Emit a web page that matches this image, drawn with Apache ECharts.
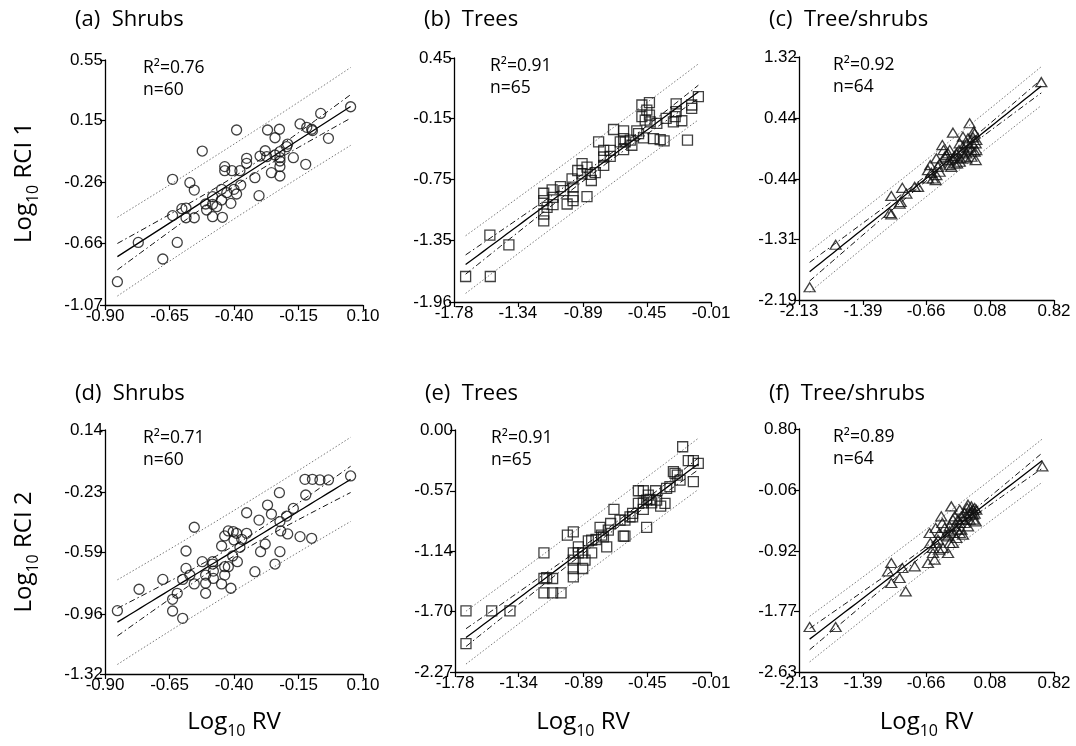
<!DOCTYPE html>
<html><head><meta charset="utf-8">
<script src="https://cdn.jsdelivr.net/npm/echarts@6/dist/echarts.min.js"></script>
<style>html,body{margin:0;padding:0;background:#fff}#c{width:1076px;height:746px}</style>
</head><body><div id="c"></div>
<script>
// ---------- data ----------
const aX = [-0.852,-0.771,-0.676,-0.620,-0.638,-0.638,-0.602,-0.586,-0.586,-0.571,-0.554,-0.554,-0.523,-0.510,-0.506,-0.483,-0.483,-0.483,-0.448,-0.448,-0.445,-0.436,-0.436,-0.428,-0.412,-0.408,-0.390,-0.390,-0.377,-0.374,-0.351,-0.351,-0.319,-0.303,-0.299,-0.279,-0.270,-0.255,-0.241,-0.224,-0.222,-0.222,-0.222,-0.222,-0.222,-0.192,-0.196,-0.170,-0.144,-0.122,-0.118,-0.096,-0.064,-0.034,0.052,-0.467,-0.400,-0.241,-0.099,-0.273];
const aY = [-0.916,-0.656,-0.766,-0.656,-0.239,-0.479,-0.433,-0.429,-0.493,-0.261,-0.310,-0.493,-0.052,-0.402,-0.442,-0.354,-0.404,-0.486,-0.305,-0.376,-0.490,-0.155,-0.182,-0.327,-0.398,-0.182,-0.336,0.087,-0.182,-0.277,-0.100,-0.133,-0.228,-0.347,-0.085,-0.050,0.087,-0.195,0.036,0.092,-0.056,-0.096,-0.118,-0.155,-0.217,-0.006,-0.023,-0.096,0.127,-0.140,0.105,0.083,0.197,0.032,0.241,-0.420,-0.305,-0.078,0.092,-0.089];

const bX = [-1.700,-1.530,-1.533,-1.402,-1.162,-1.162,-1.162,-1.162,-1.104,-1.098,-1.098,-1.047,-1.001,-0.967,-0.960,-0.960,-0.960,-0.928,-0.898,-0.864,-0.864,-0.834,-0.807,-0.784,-0.749,-0.749,-0.704,-0.681,-0.612,-0.612,-0.612,-0.601,-0.566,-0.521,-0.475,-0.486,-0.486,-0.463,-0.434,-0.434,-0.452,-0.406,-0.383,-0.360,-0.333,-0.319,-0.269,-0.250,-0.250,-0.211,-0.172,-0.143,-0.143,-0.097,-0.749,-0.635,-0.555,-0.509,-0.841,-1.024,-1.139,-0.429,-0.257,-0.704,-0.898];
const bY = [-1.708,-1.708,-1.300,-1.396,-0.886,-0.959,-1.091,-1.158,-0.853,-0.926,-0.999,-0.820,-0.992,-0.743,-0.826,-0.919,-0.959,-0.661,-0.594,-0.627,-0.919,-0.760,-0.683,-0.379,-0.462,-0.528,-0.462,-0.256,-0.269,-0.346,-0.455,-0.379,-0.362,-0.269,-0.339,-0.014,-0.130,-0.163,0.009,-0.114,-0.064,-0.346,-0.196,-0.356,-0.369,-0.147,-0.180,-0.004,-0.080,-0.170,-0.362,-0.047,-0.014,0.069,-0.611,-0.379,-0.412,-0.296,-0.700,-0.859,-1.025,-0.180,-0.130,-0.521,-0.694];

const cX = [-2.007,-1.706,-1.062,-1.081,-1.062,-0.954,-0.935,-0.888,-0.792,-0.611,-0.599,-0.580,-0.549,-0.541,-0.503,-0.472,-0.457,-0.426,-0.395,-0.368,-0.349,-0.329,-0.302,-0.279,-0.264,-0.233,-0.221,-0.194,-0.175,-0.156,-0.148,-0.136,-0.125,-0.110,-0.098,-0.086,-0.079,-0.098,-0.271,-0.387,-0.445,-0.522,-0.638,-0.638,-0.753,-0.966,0.673,-0.349,-0.310,-0.241,-0.194,-0.136,-0.086,-0.175,-0.406,-0.503,-0.541,-0.233,-0.117,-0.329,-0.271,-0.187,-0.079,-0.387];
const cY = [-2.006,-1.392,-0.687,-0.933,-0.952,-0.774,-0.570,-0.653,-0.556,-0.242,-0.353,-0.435,-0.459,-0.145,-0.218,0.048,-0.024,-0.097,-0.169,-0.266,0.227,-0.111,-0.218,-0.024,-0.145,0.024,-0.121,-0.072,0.145,0.363,0.024,-0.024,0.073,0.242,-0.048,-0.169,0.121,0.218,0.073,-0.024,-0.121,-0.266,-0.314,-0.435,-0.556,-0.798,0.957,-0.145,-0.072,-0.048,-0.145,-0.121,0.073,0.000,-0.072,-0.338,-0.387,0.169,0.160,-0.218,-0.193,0.073,-0.024,-0.242];

const dX = [-0.852,-0.768,-0.676,-0.638,-0.638,-0.620,-0.599,-0.599,-0.586,-0.586,-0.571,-0.554,-0.554,-0.523,-0.510,-0.510,-0.510,-0.483,-0.483,-0.480,-0.448,-0.448,-0.436,-0.436,-0.436,-0.422,-0.412,-0.405,-0.403,-0.400,-0.390,-0.387,-0.377,-0.370,-0.351,-0.351,-0.319,-0.303,-0.297,-0.279,-0.270,-0.255,-0.241,-0.224,-0.222,-0.222,-0.219,-0.192,-0.196,-0.170,-0.144,-0.122,-0.125,-0.099,-0.096,-0.067,-0.034,0.052,-0.480,-0.422];
const dY = [-0.941,-0.813,-0.754,-0.873,-0.943,-0.837,-0.987,-0.754,-0.688,-0.584,-0.728,-0.442,-0.781,-0.648,-0.728,-0.777,-0.837,-0.648,-0.662,-0.704,-0.554,-0.781,-0.494,-0.678,-0.728,-0.464,-0.807,-0.614,-0.468,-0.518,-0.478,-0.648,-0.562,-0.514,-0.478,-0.355,-0.708,-0.399,-0.588,-0.542,-0.309,-0.363,-0.662,-0.235,-0.588,-0.408,-0.464,-0.482,-0.375,-0.329,-0.498,-0.249,-0.155,-0.508,-0.155,-0.159,-0.159,-0.135,-0.748,-0.678];

const eX = [-1.704,-1.704,-1.526,-1.400,-1.165,-1.165,-1.165,-1.105,-1.105,-1.047,-1.003,-0.962,-0.962,-0.962,-0.962,-0.962,-0.927,-0.897,-0.897,-0.858,-0.835,-0.805,-0.777,-0.754,-0.731,-0.704,-0.681,-0.616,-0.605,-0.605,-0.552,-0.552,-0.512,-0.478,-0.478,-0.455,-0.443,-0.420,-0.393,-0.358,-0.328,-0.317,-0.270,-0.259,-0.224,-0.206,-0.167,-0.132,-0.132,-0.098,-0.478,-0.432,-0.570,-0.639,-0.766,-0.835,-0.927,-0.243,-0.294,-0.386,-0.455,-0.512,-0.720,-0.881,-1.146];
const eY = [-2.004,-1.697,-1.697,-1.697,-1.152,-1.393,-1.528,-1.393,-1.528,-1.528,-0.986,-0.955,-1.152,-1.221,-1.299,-1.378,-1.096,-1.152,-1.299,-1.040,-1.152,-1.027,-0.914,-1.002,-1.096,-0.877,-0.745,-0.996,-0.845,-0.996,-0.814,-0.783,-0.570,-0.683,-0.745,-0.914,-0.611,-0.683,-0.570,-0.714,-0.689,-0.548,-0.391,-0.407,-0.470,-0.157,-0.288,-0.288,-0.485,-0.313,-0.570,-0.651,-0.814,-0.845,-0.986,-1.033,-1.152,-0.423,-0.532,-0.658,-0.658,-0.689,-0.939,-1.221,-1.384];

const fX = [-2.007,-1.706,-1.100,-1.062,-1.062,-0.966,-0.935,-0.896,-0.792,-0.638,-0.619,-0.611,-0.580,-0.561,-0.549,-0.522,-0.484,-0.472,-0.464,-0.433,-0.406,-0.387,-0.368,-0.349,-0.329,-0.310,-0.291,-0.271,-0.252,-0.233,-0.214,-0.194,-0.175,-0.156,-0.136,-0.117,-0.110,-0.098,-0.086,-0.079,0.685,-0.445,-0.387,-0.349,-0.302,-0.271,-0.233,-0.175,-0.136,-0.117,-0.183,-0.511,-0.580,-0.503,-0.406,-0.252,-0.214,-0.349,-0.271,-0.156,-0.541,-0.329,-0.098,-0.387];
const fY = [-1.995,-1.995,-1.209,-1.091,-1.374,-1.303,-1.162,-1.491,-1.138,-1.091,-0.668,-0.809,-0.880,-1.044,-0.597,-0.762,-0.433,-0.527,-0.880,-0.692,-0.950,-0.809,-0.292,-0.668,-0.574,-0.739,-0.480,-0.339,-0.621,-0.692,-0.527,-0.433,-0.268,-0.386,-0.292,-0.339,-0.480,-0.395,-0.503,-0.339,0.273,-0.597,-0.574,-0.480,-0.621,-0.527,-0.480,-0.574,-0.362,-0.409,-0.315,-0.903,-0.950,-0.668,-0.715,-0.433,-0.386,-0.809,-0.668,-0.480,-0.809,-0.433,-0.315,-0.645];

// tick labels
const xTicksShrubs = [-0.90,-0.65,-0.40,-0.15,0.10];
const xTicksTrees  = [-1.78,-1.34,-0.89,-0.45,-0.01];
const xTicksMixed  = [-2.13,-1.39,-0.66,0.08,0.82];
const yTicksA = [-1.07,-0.66,-0.26,0.15,0.55];
const yTicksB = [-1.96,-1.35,-0.75,-0.15,0.45];
const yTicksC = [-2.19,-1.31,-0.44,0.44,1.32];
const yTicksD = [-1.32,-0.96,-0.59,-0.23,0.14];
const yTicksE = [-2.27,-1.70,-1.14,-0.57,0.00];
const yTicksF = [-2.63,-1.77,-0.92,-0.06,0.80];

const titles = ['(a)  Shrubs','(b)  Trees','(c)  Tree/shrubs','(d)  Shrubs','(e)  Trees','(f)  Tree/shrubs'];
const r2Labels = ['R²=0.76','R²=0.91','R²=0.92','R²=0.71','R²=0.91','R²=0.89'];
const nLabels = ['n=60','n=65','n=64','n=60','n=65','n=64'];

// ---------- layout ----------
const panels = [
  {x:aX,y:aY,xt:xTicksShrubs,yt:yTicksA,sym:'circle',size:10,g:{left:105,top:60,width:258,height:245},tx:38},
  {x:bX,y:bY,xt:xTicksTrees,yt:yTicksB,sym:'rect',size:10,g:{left:454,top:58,width:257,height:244},tx:36},
  {x:cX,y:cY,xt:xTicksMixed,yt:yTicksC,sym:'triangle',size:[11,9],g:{left:799,top:57,width:255,height:243},tx:34},
  {x:dX,y:dY,xt:xTicksShrubs,yt:yTicksD,sym:'circle',size:10,g:{left:105,top:430,width:258,height:244},tx:38},
  {x:eX,y:eY,xt:xTicksTrees,yt:yTicksE,sym:'rect',size:10,g:{left:455,top:430,width:256,height:242},tx:36},
  {x:fX,y:fY,xt:xTicksMixed,yt:yTicksF,sym:'triangle',size:[11,9],g:{left:799,top:429,width:255,height:243},tx:34}
];

// least-squares fit with 95% confidence / prediction bands, derived from the point arrays
function fitBands(xs, ys){
  const n = xs.length;
  const xb = xs.reduce((s,v)=>s+v,0)/n, yb = ys.reduce((s,v)=>s+v,0)/n;
  let sxx=0, sxy=0;
  for(let i=0;i<n;i++){ sxx+=(xs[i]-xb)**2; sxy+=(xs[i]-xb)*(ys[i]-yb); }
  const b = sxy/sxx, a = yb-b*xb;
  let sse=0; for(let i=0;i<n;i++){ sse+=(ys[i]-a-b*xs[i])**2; }
  const s = Math.sqrt(sse/(n-2)), t = 2.0;
  const lo = Math.min(...xs), hi = Math.max(...xs);
  const fit=[], ciU=[], ciL=[], piU=[], piL=[];
  const steps = 40;
  for(let k=0;k<=steps;k++){
    const x = lo+(hi-lo)*k/steps, yh = a+b*x;
    const c = t*s*Math.sqrt(1/n+(x-xb)**2/sxx);
    const p = t*s*Math.sqrt(1+1/n+(x-xb)**2/sxx);
    fit.push([x,yh]); ciU.push([x,yh+c]); ciL.push([x,yh-c]); piU.push([x,yh+p]); piL.push([x,yh-p]);
  }
  return {fit,ciU,ciL,piU,piL};
}

const labelFont = 'Liberation Sans';
const textFont = 'Open Sans';

const grid=[], xAxis=[], yAxis=[], series=[], graphic=[];
panels.forEach((p,i)=>{
  grid.push(Object.assign({containLabel:false}, p.g));
  const axisCommon = {
    type:'value', gridIndex:i,
    axisLine:{show:true,onZero:false,lineStyle:{color:'#000',width:1.3}},
    splitLine:{show:false}
  };
  const lab = {fontFamily:labelFont,fontSize:17,color:'#000'};
  xAxis.push(Object.assign({}, axisCommon, {
    min:p.xt[0], max:p.xt[p.xt.length-1],
    axisTick:{show:true,length:5,customValues:p.xt,lineStyle:{color:'#000',width:1.2}},
    axisLabel:Object.assign({customValues:p.xt,formatter:v=>v.toFixed(2),margin:3},lab)
  }));
  yAxis.push(Object.assign({}, axisCommon, {
    min:p.yt[0], max:p.yt[p.yt.length-1],
    axisTick:{show:true,length:5,customValues:p.yt,lineStyle:{color:'#000',width:1.2}},
    axisLabel:Object.assign({customValues:p.yt,formatter:v=>v.toFixed(2),margin:2},lab)
  }));
  const fb = fitBands(p.x,p.y);
  const ln = (data,style)=>({type:'line',xAxisIndex:i,yAxisIndex:i,data,showSymbol:false,symbol:'none',silent:true,
      lineStyle:style,z:1,animation:false});
  series.push(ln(fb.piU,{color:'#555',width:0.8,type:[1.5,2]}));
  series.push(ln(fb.piL,{color:'#555',width:0.8,type:[1.5,2]}));
  series.push(ln(fb.ciU,{color:'#111',width:1,type:[6,3,1.5,3]}));
  series.push(ln(fb.ciL,{color:'#111',width:1,type:[6,3,1.5,3]}));
  series.push(ln(fb.fit,{color:'#000',width:1.3,type:'solid'}));
  series.push({type:'scatter',xAxisIndex:i,yAxisIndex:i,symbol:p.sym,symbolSize:p.size,
    data:p.x.map((v,k)=>[v,p.y[k]]),
    itemStyle:{color:'rgba(255,255,255,0)',borderColor:'#111',borderWidth:1.3},z:3,animation:false});
  // panel title
  graphic.push({type:'text',x:p.g.left-30,y:(i<3?20:394),
    style:{text:titles[i],font:'22px "Open Sans"',fill:'#000',verticalAlign:'middle'}});
  graphic.push({type:'text',x:p.g.left+p.tx,y:p.g.top+8,
    style:{text:r2Labels[i],font:'17.5px "Open Sans"',fill:'#000',verticalAlign:'middle'}});
  graphic.push({type:'text',x:p.g.left+p.tx,y:p.g.top+30,
    style:{text:nLabels[i],font:'17.5px "Open Sans"',fill:'#000',verticalAlign:'middle'}});
});

// axis names
const rich = {m:{fontSize:24,fontFamily:textFont,lineHeight:34,color:'#000'},
              s:{fontSize:16,fontFamily:textFont,verticalAlign:'bottom',lineHeight:34,color:'#000'}};
[0,3].forEach((i,r)=>{
  const g = panels[i].g;
  graphic.push({type:'text',x:24,y:g.top+g.height/2,rotation:Math.PI/2,
    style:{text:'{m|Log}{s|10}{m| RCI '+(r+1)+'}',rich,align:'center',verticalAlign:'middle'}});
});
[3,4,5].forEach(i=>{
  const g = panels[i].g;
  graphic.push({type:'text',x:g.left+g.width/2,y:722,
    style:{text:'{m|Log}{s|10}{m| RV}',rich,align:'center',verticalAlign:'middle'}});
});

const chart = echarts.init(document.getElementById('c'),null,{renderer:'canvas'});
chart.setOption({backgroundColor:'#fff',animation:false,grid,xAxis,yAxis,series,graphic});
</script></body></html>
